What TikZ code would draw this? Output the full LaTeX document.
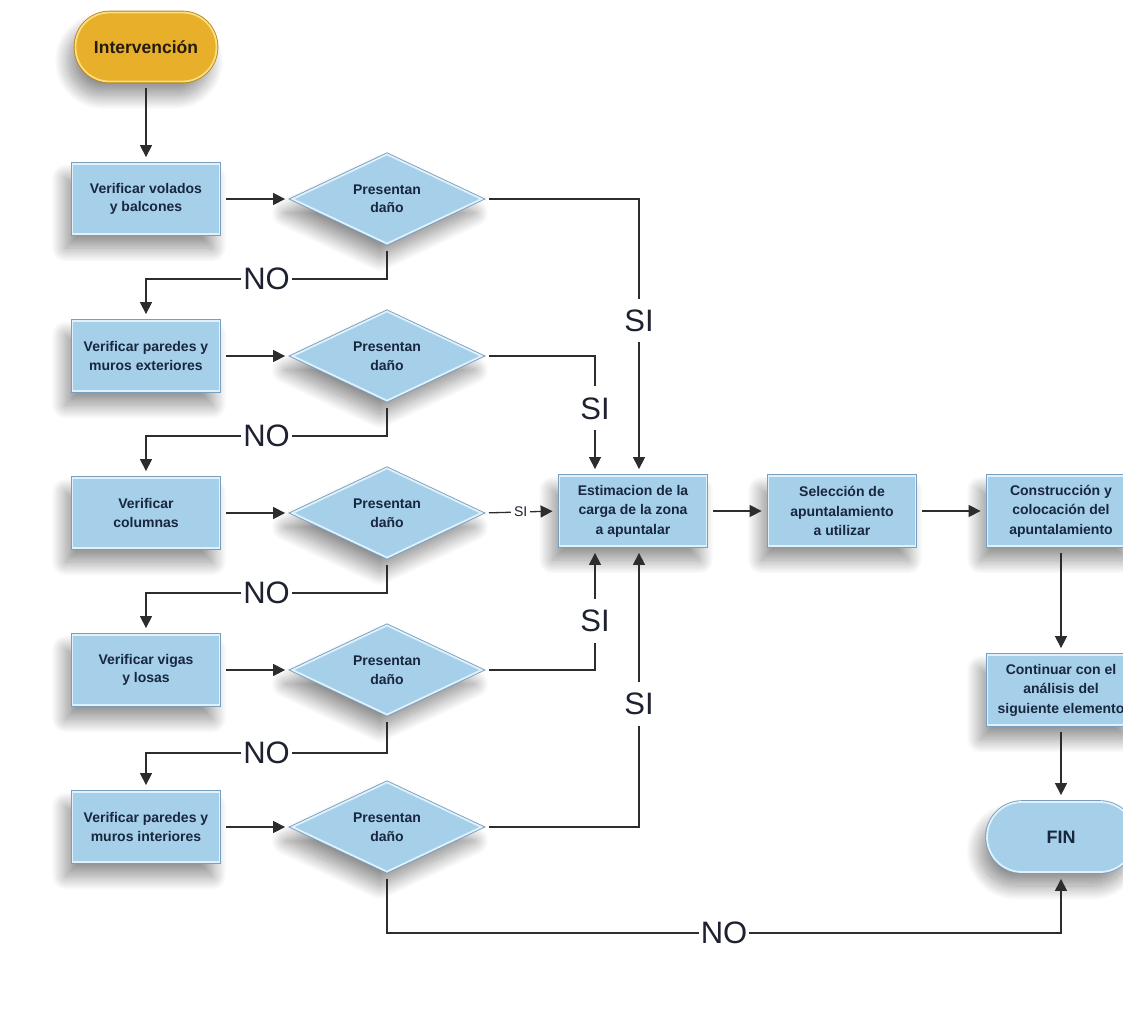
\documentclass[tikz,border=0pt]{standalone}
\usepackage{fontspec}
\setmainfont{Liberation Sans}
\usepackage{tikz}
\usetikzlibrary{arrows.meta,shapes.geometric,shadows.blur}
\definecolor{cajaazul}{RGB}{166,208,234}
\definecolor{bordeclaro}{RGB}{224,241,252}
\definecolor{bordeazul}{RGB}{120,160,190}
\definecolor{textoazul}{RGB}{24,38,62}
\definecolor{ocre}{RGB}{232,176,42}
\definecolor{ocreclaro}{RGB}{250,222,128}
\definecolor{ocreoscuro}{RGB}{185,135,30}
\definecolor{lineagris}{RGB}{45,45,45}
\definecolor{letrero}{RGB}{30,34,48}

\tikzset{
  sombra/.style={blur shadow={shadow xshift=-7pt,shadow yshift=-14pt,
      shadow blur radius=14pt,shadow blur steps=30,shadow opacity=45}},
  base/.style={sombra, preaction={draw=#1,line width=3.6pt}, line width=1.8pt,
      align=center, inner sep=2pt,
      font=\bfseries\fontsize{14}{18.5}\selectfont},
  proceso/.style={base=bordeazul, rectangle, fill=cajaazul, draw=bordeclaro,
      text=textoazul, minimum width=147pt, minimum height=70pt},
  decision/.style={base=bordeazul, diamond, aspect=2, inner sep=0pt,
      fill=cajaazul, draw=bordeclaro, text=textoazul,
      minimum width=190pt, minimum height=90pt},
  inicio/.style={base=ocreoscuro, rectangle, rounded corners=34pt, fill=ocre,
      draw=ocreclaro, text=black!80!brown, minimum width=141pt, minimum height=69pt,
      font=\bfseries\fontsize{17.5}{20}\selectfont},
  terminal/.style={base=bordeazul, rectangle, rounded corners=35pt, fill=cajaazul,
      draw=bordeclaro, text=textoazul, minimum width=148pt, minimum height=70pt,
      font=\bfseries\fontsize{18}{20}\selectfont},
  flecha/.style={draw=lineagris, line width=1.3pt,
      -{Triangle[length=12pt,width=12pt]}, shorten <=6pt, shorten >=6pt},
  etiqueta/.style={fill=white, text=letrero, inner xsep=2pt, inner ysep=1pt,
      font=\fontsize{31}{31}\selectfont},
  etiquetasi/.style={etiqueta, inner ysep=11pt},
  sipeque/.style={fill=white, text=letrero, inner sep=3pt,
      font=\fontsize{14}{14}\selectfont}
}

\begin{document}
\begin{tikzpicture}[x=1pt,y=-1pt]
\useasboundingbox (0,0) rectangle (1123,1011);

\node[inicio] (ini) at (146,47) {Intervención};

\node[proceso] (vol) at (146,199) {Verificar volados\\y balcones};
\node[proceso] (pext) at (146,356) {Verificar paredes y\\muros exteriores};
\node[proceso] (col) at (146,513) {Verificar\\columnas};
\node[proceso] (vig) at (146,670) {Verificar vigas\\y losas};
\node[proceso] (pint) at (146,827) {Verificar paredes y\\muros interiores};

\node[decision] (dvol) at (387,199) {Presentan\\daño};
\node[decision] (dpext) at (387,356) {Presentan\\daño};
\node[decision] (dcol) at (387,513) {Presentan\\daño};
\node[decision] (dvig) at (387,670) {Presentan\\daño};
\node[decision] (dpint) at (387,827) {Presentan\\daño};

\node[proceso, font=\bfseries\fontsize{14}{19.5}\selectfont] (est) at (633,511) {Estimacion de la\\carga de la zona\\a apuntalar};
\node[proceso, font=\bfseries\fontsize{14}{19.5}\selectfont] (sel) at (842,511) {Selección de\\apuntalamiento\\a utilizar};
\node[proceso, font=\bfseries\fontsize{14}{19.5}\selectfont] (con) at (1061,511) {Construcción y\\colocación del\\apuntalamiento};
\node[proceso, font=\bfseries\fontsize{14}{19.5}\selectfont] (sig) at (1061,690) {Continuar con el\\análisis del\\siguiente elemento};
\node[terminal] (fin) at (1061,837) {FIN};

\draw[flecha] (ini) -- (vol);
\draw[flecha] (vol) -- (dvol);
\draw[flecha] (pext) -- (dpext);
\draw[flecha] (col) -- (dcol);
\draw[flecha] (vig) -- (dvig);
\draw[flecha] (pint) -- (dpint);

\draw[flecha] (dvol.south) -- ++(0,34) -| node[etiqueta,pos=0.25] {NO} (pext.north);
\draw[flecha] (dpext.south) -- ++(0,34) -| node[etiqueta,pos=0.25] {NO} (col.north);
\draw[flecha] (dcol.south) -- ++(0,34) -| node[etiqueta,pos=0.25] {NO} (vig.north);
\draw[flecha] (dvig.south) -- ++(0,37) -| node[etiqueta,pos=0.25] {NO} (pint.north);
\draw[flecha] (dpint.south) -- ++(0,60) -| node[etiqueta,pos=0.25] {NO} (fin.south);

\draw[flecha] (dvol.east) -| node[etiquetasi,pos=0.72] {SI} ([xshift=6pt]est.north);
\draw[flecha] (dpext.east) -| node[etiquetasi,pos=0.72] {SI} ([xshift=-38pt]est.north);
\draw[flecha] (dcol.east) -- node[sipeque] {SI} (est.west);
\draw[flecha] (dvig.east) -| node[etiquetasi,pos=0.7] {SI} ([xshift=-38pt]est.south);
\draw[flecha] (dpint.east) -| node[etiquetasi,pos=0.72] {SI} ([xshift=6pt]est.south);

\draw[flecha] (est) -- (sel);
\draw[flecha] (sel) -- (con);
\draw[flecha] (con) -- (sig);
\draw[flecha] (sig) -- (fin);
\end{tikzpicture}
\end{document}
